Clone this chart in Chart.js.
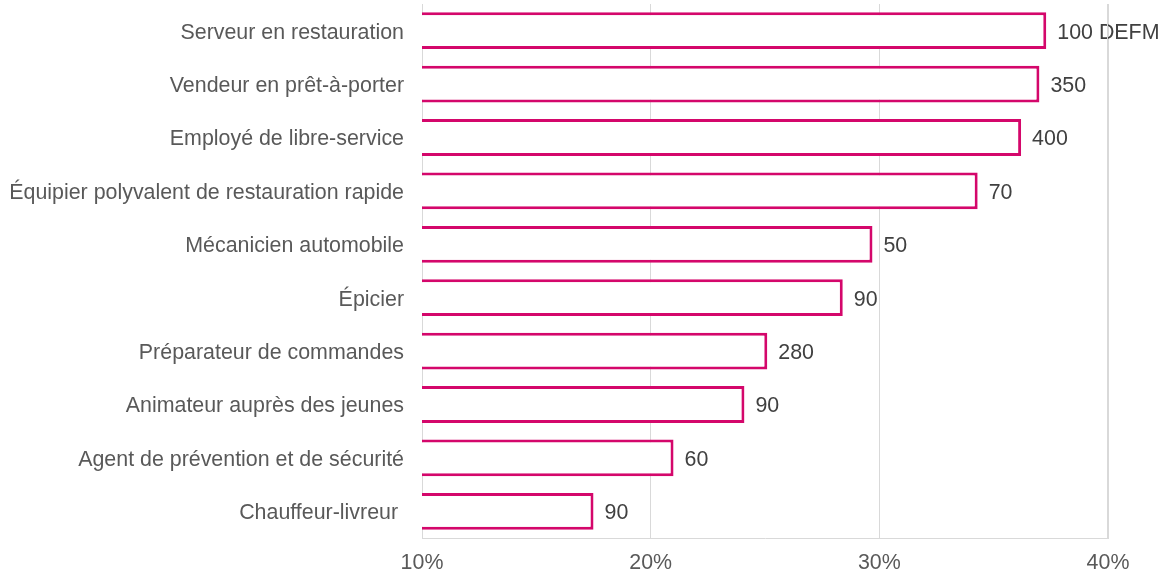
<!DOCTYPE html>
<html>
<head>
<meta charset="utf-8">
<script src="https://cdn.jsdelivr.net/npm/chart.js@4/dist/chart.umd.min.js"></script>
<style>
  html, body { margin: 0; padding: 0; background: #fff; }
  #wrap { width: 1159px; height: 571px; position: relative; }
</style>
</head>
<body>
<div id="wrap"><canvas id="chart"></canvas></div>
<script>
var metiers = [
   "Serveur en restauration",
   "Vendeur en prêt-à-porter",
   "Employé de libre-service",
   "Équipier polyvalent de restauration rapide",
   "Mécanicien automobile",
   "Épicier",
   "Préparateur de commandes",
   "Animateur auprès des jeunes",
   "Agent de prévention et de sécurité",
   "Chauffeur-livreur "
];
var parts = [37.3, 37.0, 36.2, 34.3, 29.7, 28.4, 25.1, 24.1, 21.0, 17.5];
var defm = ["100 DEFM", "350", "400", "70", "50", "90", "280", "90", "60", "90"];
var xTicks = [10, 20, 30, 40];

var magenta = "#d4076b";
var fontFam = "'Liberation Sans', Arial, sans-serif";
var fontSize = 21.4;

// writes the DEFM count just after each bar
var defmLabels = {
   id: "defmLabels",
   afterDatasetsDraw: function (chart) {
      var ctx = chart.ctx;
      var meta = chart.getDatasetMeta(0);
      ctx.save();
      ctx.font = fontSize + "px " + fontFam;
      ctx.fillStyle = "#404040";
      ctx.textAlign = "left";
      ctx.textBaseline = "middle";
      meta.data.forEach(function (bar, i) {
         ctx.fillText(defm[i], bar.x + 11, bar.y + 2);
      });
      ctx.restore();
   }
};

new Chart(document.getElementById("chart"), {
   type: "bar",
   data: {
      labels: metiers,
      datasets: [{
         data: parts,
         backgroundColor: "#ffffff",
         borderColor: magenta,
         borderWidth: 3,
         borderSkipped: false,
         categoryPercentage: 1,
         barPercentage: 0.69
      }]
   },
   options: {
      indexAxis: "y",
      responsive: true,
      maintainAspectRatio: false,
      animation: false,
      layout: { padding: { top: 4, right: 51, bottom: 0, left: 0 } },
      plugins: { legend: { display: false }, tooltip: { enabled: false } },
      scales: {
         x: {
            min: 10,
            max: 40,
            afterBuildTicks: function (axis) {
               axis.ticks = xTicks.map(function (v) { return { value: v }; });
            },
            afterFit: function (axis) {
               axis.height = 33;
               axis.paddingLeft = 0;
               axis.paddingRight = 0;
            },
            grid: { color: "#d9d9d9", drawTicks: false },
            border: { color: "#d9d9d9" },
            ticks: {
               padding: 12,
               color: "#595959",
               font: { family: fontFam, size: fontSize },
               callback: function (v) { return v + "%"; }
            }
         },
         y: {
            afterFit: function (axis) {
               axis.width = 422;
               axis.paddingTop = 0;
               axis.paddingBottom = 0;
            },
            grid: { display: false, drawTicks: false },
            border: { color: "#d9d9d9" },
            ticks: {
               padding: 18,
               labelOffset: 2,
               color: "#595959",
               font: { family: fontFam, size: fontSize }
            }
         }
      }
   },
   plugins: [defmLabels, {
      id: "rightBorder",
      afterDraw: function (chart) {
         var a = chart.chartArea, ctx = chart.ctx;
         ctx.save();
         ctx.strokeStyle = "#d9d9d9";
         ctx.lineWidth = 1;
         ctx.beginPath();
         ctx.moveTo(a.right - 0.5, a.top);
         ctx.lineTo(a.right - 0.5, a.bottom);
         ctx.stroke();
         ctx.restore();
      }
   }]
});
</script>
</body>
</html>
